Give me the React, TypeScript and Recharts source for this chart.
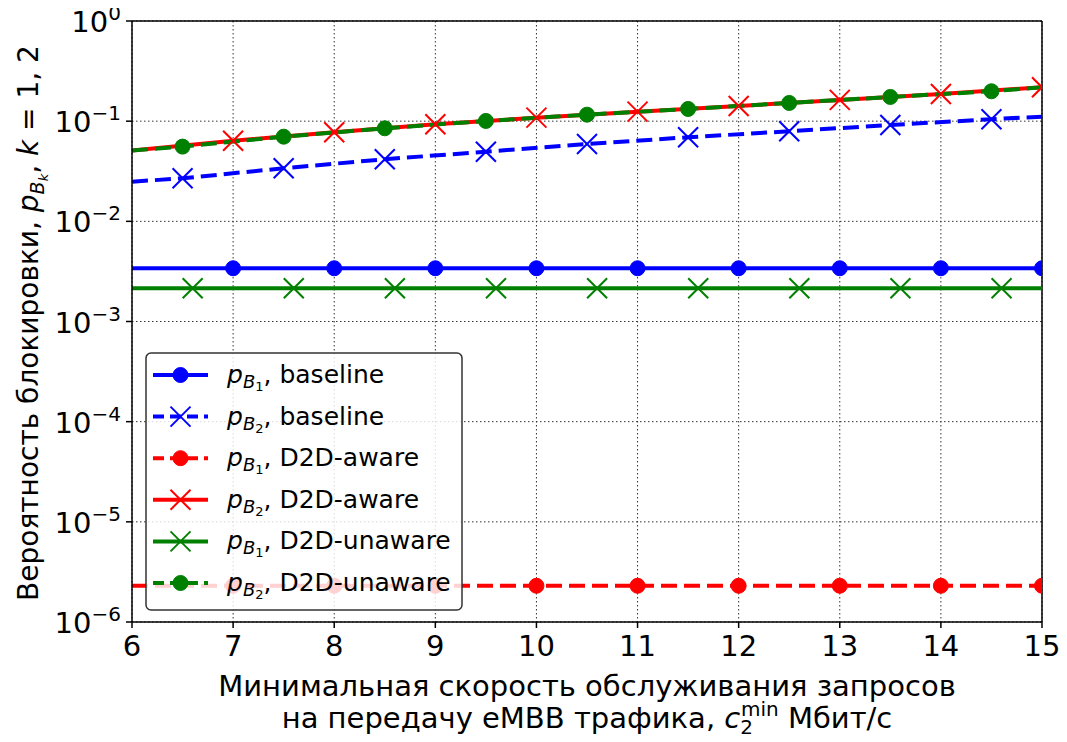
import React from "react";
import {
  LineChart,
  Line,
  XAxis,
  YAxis,
  CartesianGrid,
  ReferenceLine,
  Legend,
  Label,
} from "recharts";

const FONT = "DejaVu Sans";

// x positions of the points (Мбит/с)
const X_INT = [6, 7, 8, 9, 10, 11, 12, 13, 14, 15];
const X_HALF = [6, 6.5, 7.5, 8.5, 9.5, 10.5, 11.5, 12.5, 13.5, 14.5, 15];
const X_SHIFT = [6, 6.6, 7.6, 8.6, 9.6, 10.6, 11.6, 12.6, 13.6, 14.6, 15];

// blocking probabilities
const PB1_BASELINE = [3.4e-3, 3.4e-3, 3.4e-3, 3.4e-3, 3.4e-3, 3.4e-3, 3.4e-3, 3.4e-3, 3.4e-3, 3.4e-3];
const PB2_BASELINE = [0.0249, 0.0269, 0.0339, 0.0417, 0.0496, 0.0592, 0.0691, 0.0793, 0.0916, 0.1045, 0.111];
const PB1_AWARE = [2.3e-6, 2.3e-6, 2.3e-6, 2.3e-6, 2.3e-6, 2.3e-6, 2.3e-6, 2.3e-6, 2.3e-6, 2.3e-6];
const PB2_AWARE = [0.0508, 0.0638, 0.0775, 0.0931, 0.1084, 0.1245, 0.1419, 0.163, 0.1868, 0.218];
const PB1_UNAWARE = [2.15e-3, 2.15e-3, 2.15e-3, 2.15e-3, 2.15e-3, 2.15e-3, 2.15e-3, 2.15e-3, 2.15e-3, 2.15e-3, 2.15e-3];
const PB2_UNAWARE = [0.0508, 0.0557, 0.07, 0.0849, 0.1005, 0.1161, 0.1324, 0.152, 0.1745, 0.1988, 0.218];

const X_TICKS = [6, 7, 8, 9, 10, 11, 12, 13, 14, 15];
const Y_TICKS = [1e-6, 1e-5, 1e-4, 1e-3, 1e-2, 1e-1, 1];

const LEGEND_SUB = ["1", "2", "1", "2", "1", "2"];
const LEGEND_NAMES = ["baseline", "baseline", "D2D-aware", "D2D-aware", "D2D-unaware", "D2D-unaware"];

type Series = {
  key: string;
  xs: number[];
  ys: number[];
  color: string;
  dash?: string;
  marker: "circle" | "x";
  skipLast: boolean;
};

const SERIES: Series[] = [
  { key: "b1base", xs: X_INT, ys: PB1_BASELINE, color: "#0000ff", marker: "circle", skipLast: false },
  { key: "b2base", xs: X_HALF, ys: PB2_BASELINE, color: "#0000ff", dash: "16 7", marker: "x", skipLast: true },
  { key: "b1aware", xs: X_INT, ys: PB1_AWARE, color: "#ff0000", dash: "16 7", marker: "circle", skipLast: false },
  { key: "b2aware", xs: X_INT, ys: PB2_AWARE, color: "#ff0000", marker: "x", skipLast: false },
  { key: "b1unaware", xs: X_SHIFT, ys: PB1_UNAWARE, color: "#008000", marker: "x", skipLast: true },
  { key: "b2unaware", xs: X_HALF, ys: PB2_UNAWARE, color: "#008000", dash: "16 7", marker: "circle", skipLast: true },
];

const LW = 4;

function Marker({ cx, cy, color, kind }: { cx: number; cy: number; color: string; kind: string }) {
  if (kind === "circle") return <circle cx={cx} cy={cy} r={7.5} fill={color} stroke={color} strokeWidth={1} />;
  const h = 10;
  return (
    <g stroke={color} strokeWidth={2}>
      <line x1={cx - h} y1={cy - h} x2={cx + h} y2={cy + h} />
      <line x1={cx - h} y1={cy + h} x2={cx + h} y2={cy - h} />
    </g>
  );
}

function makeDot(s: Series) {
  return (props: any) => {
    const { cx, cy, index } = props;
    const n = s.xs.length;
    if (index === 0 || (s.skipLast && index === n - 1) || cx == null || cy == null)
      return <g key={`d-${s.key}-${index}`} />;
    return (
      <g key={`d-${s.key}-${index}`}>
        <Marker cx={cx} cy={cy} color={s.color} kind={s.marker} />
      </g>
    );
  };
}

function YTick(props: any) {
  const { x, y, payload } = props;
  const e = Math.round(Math.log10(payload.value));
  const exp = e < 0 ? `\u2212${-e}` : `${e}`;
  return (
    <text x={x} y={y + 11} textAnchor="end" fontFamily={FONT} fontSize={29} fill="#000">
      10
      <tspan fontSize={20} dy={-12}>
        {exp}
      </tspan>
    </text>
  );
}

function XTitle(props: any) {
  const vb = props.viewBox || {};
  const cx = vb.x + vb.width / 2;
  const y = vb.y;
  return (
    <g fontFamily={FONT} fill="#000">
      <text x={cx} y={y + 74} textAnchor="middle" fontSize={29}>
        Минимальная скорость обслуживания запросов
      </text>
      <text x={cx} y={y + 106} textAnchor="middle" fontSize={29}>
        на передачу eMBB трафика,{" "}
        <tspan fontStyle="italic">c</tspan>
        <tspan fontSize={20} dy={6}>2</tspan>
        <tspan fontSize={20} dx={-12} dy={-18}>min</tspan>
        <tspan fontSize={29} dy={12}> Мбит/с</tspan>
      </text>
    </g>
  );
}

function YTitle() {
  const cy = 323;
  const x = 38;
  return (
    <text
      transform={`translate(${x},${cy}) rotate(-90)`}
      textAnchor="middle"
      fontFamily={FONT}
      fontSize={28}
      fill="#000"
    >
      Вероятность блокировки,{" "}
      <tspan fontStyle="italic">p</tspan>
      <tspan fontStyle="italic" fontSize={19} dy={6}>B</tspan>
      <tspan fontStyle="italic" fontSize={13} dy={4}>k</tspan>
      <tspan fontSize={28} dy={-10}>, </tspan>
      <tspan fontStyle="italic">k</tspan>
      <tspan> = 1, 2</tspan>
    </text>
  );
}

function LegendBox() {
  const W = 318;
  const H = 259;
  const rows = SERIES.map((s, i) => {
    const cy = 23 + i * 41.6;
    return (
      <g key={s.key}>
        <line x1={8} y1={cy} x2={63} y2={cy} stroke={s.color} strokeWidth={LW} strokeDasharray={s.dash ? "11 6" : undefined} />
        <Marker cx={35.5} cy={cy} color={s.color} kind={s.marker} />
        <text x={82} y={cy + 8} fontFamily={FONT} fontSize={25} fill="#000">
          <tspan fontStyle="italic">p</tspan>
          <tspan fontStyle="italic" fontSize={18} dy={5}>B</tspan>
          <tspan fontSize={13} dy={3}>{LEGEND_SUB[i]}</tspan>
          <tspan fontSize={25} dy={-8}>, {LEGEND_NAMES[i]}</tspan>
        </text>
      </g>
    );
  });
  return (
    <svg width={W} height={H} style={{ display: "block" }}>
      <rect x={1} y={1} width={W - 2} height={H - 2} rx={5} ry={5} fill="#ffffff" fillOpacity={0.82} stroke="#333" strokeWidth={1.5} />
      {rows}
    </svg>
  );
}

export default function App() {
  return (
    <div style={{ width: 1067, height: 742, margin: -8 }}>
      <LineChart width={1067} height={742} margin={{ top: 21, right: 25, left: 8, bottom: 20 }}>
        <CartesianGrid stroke="#333" strokeDasharray="1.5 2.5" strokeWidth={1} />
        <XAxis
          dataKey="x"
          type="number"
          domain={[6, 15]}
          ticks={X_TICKS}
          allowDataOverflow
          height={100}
          tickSize={6}
          tickMargin={7}
          stroke="#000"
          tickLine={{ stroke: "#000", strokeWidth: 1.5 }}
          axisLine={{ stroke: "#000", strokeWidth: 1.5 }}
          tick={{ fontSize: 29, fill: "#000", fontFamily: FONT }}
        >
          <Label content={XTitle} />
        </XAxis>
        <YAxis
          type="number"
          scale="log"
          domain={[1e-6, 1]}
          ticks={Y_TICKS}
          allowDataOverflow
          width={124}
          tickSize={6}
          tickMargin={5}
          tickLine={{ stroke: "#000", strokeWidth: 1.5 }}
          axisLine={{ stroke: "#000", strokeWidth: 1.5 }}
          tick={<YTick />}
        >
          <Label content={YTitle} />
        </YAxis>
        <ReferenceLine x={15} stroke="#000" strokeWidth={1.5} />
        <ReferenceLine y={1} stroke="#000" strokeWidth={1.5} />
        {SERIES.map((s) => (
          <Line
            key={s.key}
            data={s.xs.map((x, i) => ({ x, y: s.ys[i] }))}
            dataKey="y"
            type="linear"
            stroke={s.color}
            strokeWidth={LW}
            strokeDasharray={s.dash}
            dot={makeDot(s)}
            activeDot={false}
            isAnimationActive={false}
          />
        ))}
        <Legend
          layout="vertical"
          align="center"
          verticalAlign="middle"
          content={() => <LegendBox />}
          wrapperStyle={{ left: 145, top: 352, width: 318, height: 259 }}
        />
      </LineChart>
    </div>
  );
}
